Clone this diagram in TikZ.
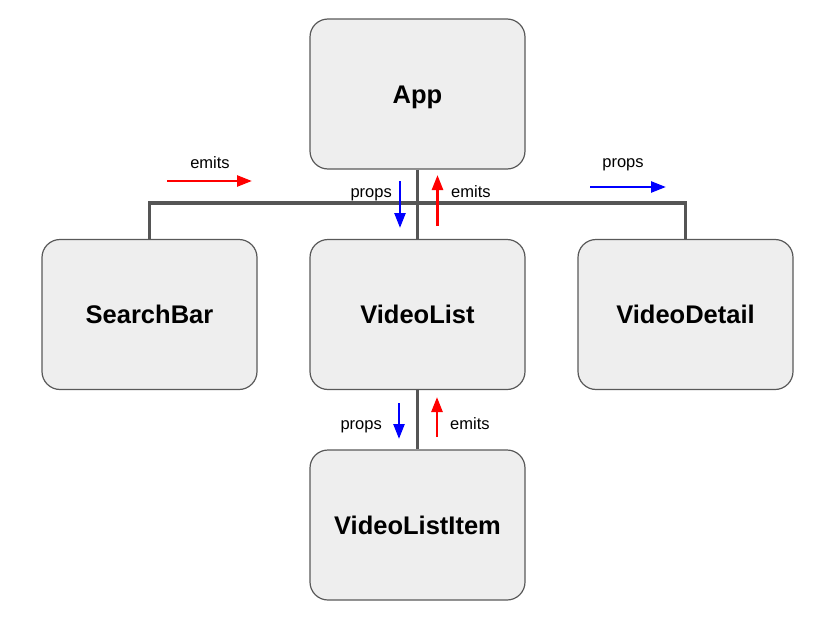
\documentclass[tikz,border=0pt]{standalone}
\usepackage{fontspec}
\setmainfont{Liberation Sans}
\usetikzlibrary{arrows.meta}
\definecolor{boxfill}{HTML}{EEEEEE}
\definecolor{boxline}{HTML}{595959}
\definecolor{busline}{HTML}{555555}

\begin{document}
\begin{tikzpicture}[x=1pt,y=-1pt,
	comp/.style={draw=boxline,fill=boxfill,line width=1.2pt,rounded corners=18pt,
		minimum width=215pt,minimum height=150pt,text height=18.3pt,text depth=0pt,
		font=\fontsize{25.5}{30}\selectfont\bfseries},
	bus/.style={draw=busline,line width=3.5pt},
	flow/.style={line width=2.6pt,-{Triangle[length=15pt,width=11pt]}},
	lbl/.style={font=\fontsize{16.5}{20}\selectfont,inner sep=0pt}]
\useasboundingbox (0,0) rectangle (839,624);
\node[comp] (app) at (417.5,94) {App};
\node[comp] (searchbar) at (149.5,314.5) {SearchBar};
\node[comp] (videolist) at (417.5,314.5) {VideoList};
\node[comp] (videodetail) at (685.5,314.5) {VideoDetail};
\node[comp] (item) at (417.5,525) {VideoListItem};
\draw[bus] (app.south) -- (videolist.north);
\draw[bus] (searchbar.north) -- ++(0,-36) -| (videodetail.north);
\draw[bus] (videolist.south) -- (item.north);
% top row
\draw[flow,red] (167,181) -- (252,181);
\node[lbl,anchor=base] (emitsl) at (210,168) {emits};
\draw[flow,blue] (590,187) -- (666,187);
\node[lbl,anchor=base] (propsr) at (623,167) {props};
\draw[flow,blue] (400,181) -- (400,228);
\node[lbl,anchor=base east] (propsa) at (392,197) {props};
\draw[flow,red] (437.5,226) -- (437.5,175);
\node[lbl,anchor=base west] (emitsa) at (451,197) {emits};
% lower pair
\draw[flow,blue] (399,403) -- (399,439);
\node[lbl,anchor=base east] (propsb) at (382,429) {props};
\draw[flow,red] (437,437) -- (437,397);
\node[lbl,anchor=base west] (emitsb) at (450,429) {emits};
\end{tikzpicture}
\end{document}
